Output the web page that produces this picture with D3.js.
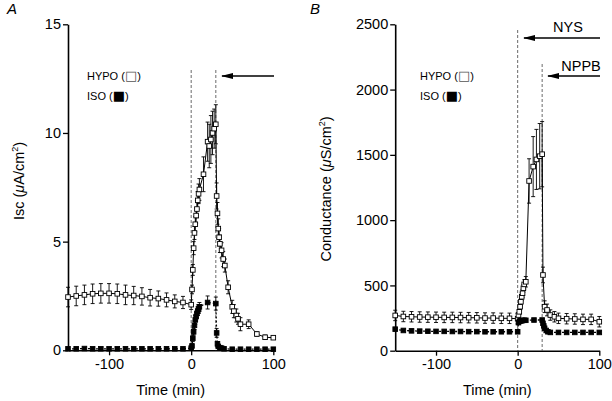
<!DOCTYPE html>
<html><head><meta charset="utf-8">
<script src="https://cdn.jsdelivr.net/npm/d3@7"></script>
<style>body{margin:0;background:#fff}svg{display:block;font-family:"Liberation Sans",Arial,sans-serif}</style>
</head><body>
<svg id="c" width="612" height="401"></svg>
<script>
// ---- Panel A data (Isc, µA/cm²) ----
const hypoA_t = [-150,-140,-130,-120,-110,-100,-90,-80,-70,-60,-50,-40,-30,-20,-10,0,1,2,3,4,5,6,7,8,9,10,15,20,22,24,26,28,30,31,32,33,34,35,37,39,41,45,50,52,55,57,60,70,80,90,100];
const hypoA_v = [2.45,2.5,2.55,2.6,2.62,2.62,2.6,2.55,2.52,2.48,2.42,2.38,2.32,2.25,2.2,2.1,2.8,3.7,4.7,5.4,5.8,6.2,6.5,6.9,7.2,7.4,8.1,9.6,9.4,9.7,10.0,10.2,10.4,7.1,6.3,5.6,5.2,4.9,4.6,4.2,3.9,2.9,2.0,1.8,1.6,1.45,1.2,1.2,0.75,0.6,0.58];
const hypoA_e = [0.45,0.45,0.45,0.45,0.45,0.45,0.45,0.45,0.42,0.4,0.38,0.35,0.32,0.3,0.28,0.22,0.2,0.25,0.3,0.3,0.35,0.35,0.4,0.4,0.45,0.5,0.8,0.9,1.0,1.1,1.0,0.9,0.9,0.6,0.5,0.45,0.4,0.4,0.35,0.35,0.3,0.3,0.3,0.3,0.3,0.25,0.3,0.2,0.1,0.1,0.08];
const isoA_t = [-150,-140,-130,-120,-110,-100,-90,-80,-70,-60,-50,-40,-30,-20,-10,0,1,2,3,4,5,6,7,8,9,10,20,30,31,32,33,35,37,40,50,60,70,80,90,100];
const isoA_v = [0.07,0.07,0.08,0.07,0.07,0.07,0.07,0.07,0.07,0.07,0.07,0.07,0.07,0.07,0.07,0.1,0.2,0.55,0.85,1.15,1.4,1.55,1.7,1.8,1.9,2.0,2.2,2.15,0.8,0.3,0.18,0.12,0.1,0.07,0.05,0.05,0.05,0.05,0.05,0.05];
const isoA_e = [0.03,0.03,0.03,0.03,0.03,0.03,0.03,0.03,0.03,0.03,0.03,0.03,0.03,0.03,0.03,0.05,0.1,0.15,0.15,0.2,0.2,0.2,0.2,0.2,0.2,0.2,0.3,0.3,0.2,0.1,0.05,0.05,0.03,0.03,0.03,0.03,0.03,0.03,0.03,0.03];

// ---- Panel B data (Conductance, µS/cm²) ----
const hypoB_t = [-150,-140,-130,-120,-110,-100,-90,-80,-70,-60,-50,-40,-30,-20,-10,0,1,2,3,4,5,6,7,8,10,14,19,23,27,30,31,33,36,40,45,50,60,70,80,90,100];
const hypoB_v = [270,262,260,258,257,256,255,255,254,253,252,250,250,248,248,245,273,298,337,375,413,440,478,508,528,1300,1410,1465,1490,1505,580,337,312,273,260,248,245,243,240,240,222];
const hypoB_e = [40,40,40,40,40,40,40,40,40,40,40,40,40,40,40,40,20,20,25,25,30,30,30,35,40,170,230,230,250,250,60,45,45,40,40,40,40,40,40,40,40];
const isoB_t = [-150,-140,-130,-120,-110,-100,-90,-80,-70,-60,-50,-40,-30,-20,-10,0,1,2,3,4,5,6,8,10,20,30,31,32,33,35,37,40,50,60,70,80,90,100];
const isoB_v = [165,155,152,150,149,148,148,147,147,146,146,145,145,145,145,145,215,225,228,230,230,232,233,233,235,235,210,190,172,155,145,140,140,140,140,140,140,140];
const isoB_e = [8,8,8,8,8,8,8,8,8,8,8,8,8,8,8,8,10,10,10,10,10,10,10,10,10,10,10,10,8,8,8,8,8,8,8,8,8,8];

const xTicks = [-100,0,100];
const yTicksA = [0,5,10,15];
const yTicksB = [0,500,1000,1500,2000,2500];

const svg = d3.select("#c");
const defs = svg.append("defs");
defs.append("marker").attr("id","ah").attr("viewBox","0 0 12 10").attr("refX",11).attr("refY",5)
  .attr("markerUnits","userSpaceOnUse").attr("markerWidth",12).attr("markerHeight",6).attr("orient","auto")
  .attr("preserveAspectRatio","none")
  .append("path").attr("d","M0,0 L12,5 L0,10 Z").attr("fill","#000");

function zip(t,v,e){return t.map((d,i)=>({t:d,v:v[i],e:e[i]}));}
const fmt = d => String(d);

function panel(o){
  const x = d3.scaleLinear().domain([-150,100]).range(o.xr);
  const y = d3.scaleLinear().domain(o.yd).range(o.yr);
  const g = svg.append("g");
  const ya = g.append("g").attr("transform",`translate(${o.xr[0]},0)`)
    .call(d3.axisLeft(y).tickValues(o.yTicks).tickFormat(fmt).tickSize(5).tickSizeOuter(0).tickPadding(2));
  const xa = g.append("g").attr("transform",`translate(0,${o.yr[0]})`)
    .call(d3.axisBottom(x).tickValues(xTicks).tickFormat(fmt).tickSize(5).tickSizeOuter(0).tickPadding(3));
  [ya,xa].forEach(a=>{
    a.select(".domain").attr("stroke","#000").attr("stroke-width",1.6);
    a.selectAll(".tick line").attr("stroke","#000").attr("stroke-width",1.3);
    a.selectAll("text").attr("font-size",14.5).attr("fill","#000").attr("font-family","Liberation Sans, Arial, sans-serif");
  });
  o.vlines.forEach(vl=>{
    g.append("line").attr("x1",x(vl.t)).attr("x2",x(vl.t)).attr("y1",vl.top).attr("y2",o.yr[0])
      .attr("stroke","#444").attr("stroke-width",0.8).attr("stroke-dasharray","3,2");
  });
  o.arrows.forEach(a=>{
    g.append("line").attr("x1",a.x1).attr("x2",a.x2).attr("y1",a.y).attr("y2",a.y)
      .attr("stroke","#000").attr("stroke-width",1.3).attr("marker-end","url(#ah)");
    if(a.label) g.append("text").attr("x",a.lx).attr("y",a.ly).attr("text-anchor","middle")
      .attr("font-size",14.5).text(a.label);
  });
  function series(data, filled){
    const line = d3.line().x(d=>x(d.t)).y(d=>y(d.v));
    const eb = g.append("g").attr("stroke","#000").attr("stroke-width",0.9);
    data.forEach(d=>{
      const X=x(d.t), y1=y(d.v+d.e), y2=y(d.v-d.e);
      eb.append("line").attr("x1",X).attr("x2",X).attr("y1",y1).attr("y2",y2);
      eb.append("line").attr("x1",X-2).attr("x2",X+2).attr("y1",y1).attr("y2",y1);
      eb.append("line").attr("x1",X-2).attr("x2",X+2).attr("y1",y2).attr("y2",y2);
    });
    g.append("path").datum(data).attr("d",line).attr("fill","none").attr("stroke","#000")
      .attr("stroke-width",filled?1.3:1).attr("stroke-dasharray",filled?"2,2":null);
    g.append("g").selectAll("rect").data(data).join("rect")
      .attr("x",d=>x(d.t)-2.3).attr("y",d=>y(d.v)-2.3).attr("width",4.6).attr("height",4.6)
      .attr("fill",filled?"#000":"#fff").attr("stroke","#000").attr("stroke-width",0.9);
  }
  series(o.hypo,false);
  series(o.iso,true);
  const lg = g.append("g").attr("font-size",11);
  const l1 = lg.append("text").attr("x",o.lx).attr("y",80);
  l1.append("tspan").text("HYPO (");
  l1.append("tspan").attr("font-family","DejaVu Sans").attr("font-size",13).attr("fill","#555").text("\u25A1");
  l1.append("tspan").text(")");
  const l2 = lg.append("text").attr("x",o.lx).attr("y",100);
  l2.append("tspan").text("ISO (");
  l2.append("tspan").attr("font-family","DejaVu Sans").attr("font-size",13).text("\u25A0");
  l2.append("tspan").text(")");
  g.append("text").attr("x",(o.xr[0]+o.xr[1])/2).attr("y",395).attr("text-anchor","middle")
    .attr("font-size",14.5).text("Time (min)");
  const yl = g.append("text").attr("transform",`translate(${o.ylx},${o.yly}) rotate(-90)`)
    .attr("text-anchor","middle").attr("font-size",14.5);
  yl.append("tspan").text(o.ylab[0]+" (");
  yl.append("tspan").attr("font-style","italic").text("\u03BC");
  yl.append("tspan").text(o.ylab[1]);
  yl.append("tspan").attr("font-size",9).attr("dy",-6).text("2");
  yl.append("tspan").attr("dy",6).text(")");
  svg.append("text").attr("x",o.letter[0]).attr("y",o.letter[1]).attr("font-size",15)
    .attr("font-style","italic").text(o.letter[2]);
}

panel({xr:[68,273.3], yd:[0,15], yr:[350.3,24.3], yTicks:yTicksA,
  hypo:zip(hypoA_t,hypoA_v,hypoA_e), iso:zip(isoA_t,isoA_v,isoA_e),
  vlines:[{t:0,top:70},{t:30,top:70}],
  arrows:[{x1:274,x2:222,y:76}],
  lx:87, ylx:24, yly:181, ylab:["Isc","A/cm"], letter:[7,14,"A"]});

panel({xr:[395.2,599.3], yd:[0,2500], yr:[350.7,24.3], yTicks:yTicksB,
  hypo:zip(hypoB_t,hypoB_v,hypoB_e), iso:zip(isoB_t,isoB_v,isoB_e),
  vlines:[{t:0,top:30},{t:30,top:64}],
  arrows:[{x1:600,x2:524,y:38,label:"NYS",lx:568,ly:32},{x1:600,x2:548,y:76,label:"NPPB",lx:581,ly:71}],
  lx:420, ylx:331, yly:189, ylab:["Conductance","S/cm"], letter:[310,14,"B"]});
</script>
</body></html>
